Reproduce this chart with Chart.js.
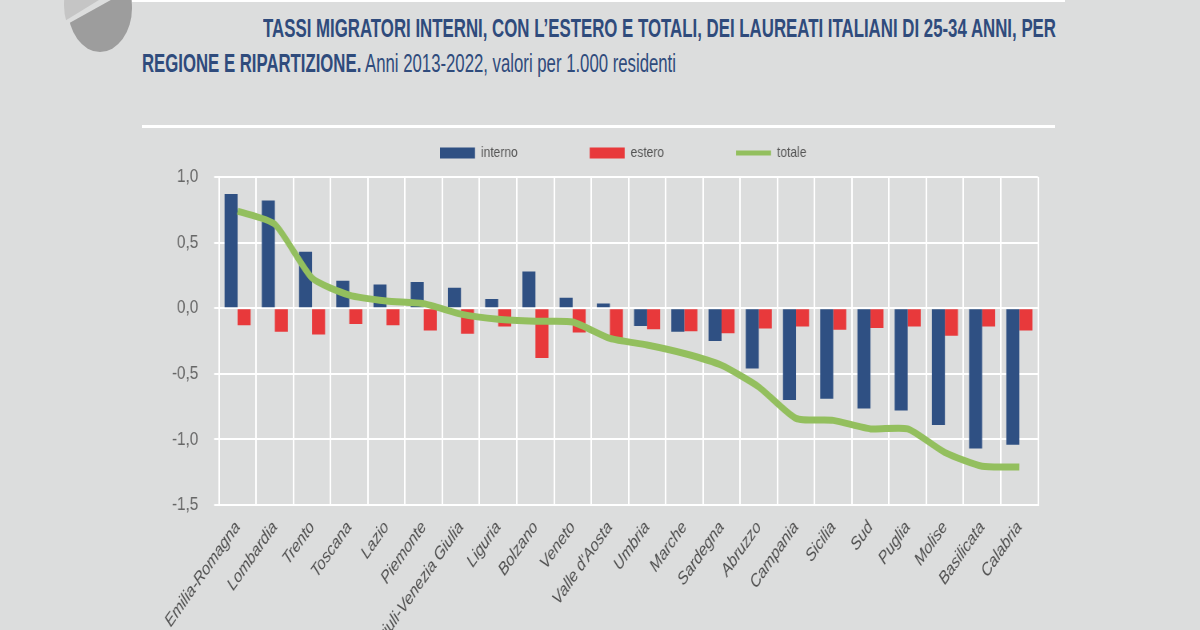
<!DOCTYPE html>
<html>
<head>
<meta charset="utf-8">
<script src="https://cdn.jsdelivr.net/npm/chart.js@4.4.1/dist/chart.umd.min.js"></script>
<style>
  html, body { margin: 0; padding: 0; }
  body { width: 1200px; height: 630px; overflow: hidden; background: #dcdddd; position: relative; font-family: "Liberation Sans", Arial, sans-serif; }
  .rule { position: absolute; background: #ffffff; }
  .title { position: absolute; color: #2f4b7c; font-size: 26px; line-height: 26px; white-space: nowrap; transform-origin: 0 0; display: inline-block; }
  .title b { font-weight: bold; }
  #wrap { position: absolute; left: 0; top: 0; width: 1500px; height: 700px; transform: scaleX(0.8); transform-origin: 0 0; }
  #logo { position: absolute; left: 55px; top: 0; }
</style>
</head>
<body>
<svg id="logo" width="90" height="60" viewBox="55 0 90 60">
  <defs>
    <clipPath id="cut"><polygon points="55,27 112,-8 55,-8"/></clipPath>
    <clipPath id="rest"><polygon points="55,31 118,-4 150,-4 150,60 55,60"/></clipPath>
  </defs>
  <ellipse cx="100" cy="8" rx="32" ry="44" fill="#9d9d9d" clip-path="url(#rest)"/>
  <ellipse cx="96" cy="5" rx="32" ry="44" fill="#c5c5c5" clip-path="url(#cut)"/>
</svg>
<div class="rule" style="left:132px; top:0; width:933px; height:2px;"></div>
<div class="rule" style="left:142px; top:125px; width:913px; height:3px;"></div>
<div class="title fit" data-w="793" style="left:263px; top:15px;"><b>TASSI MIGRATORI INTERNI, CON L’ESTERO E TOTALI, DEI LAUREATI ITALIANI DI 25-34 ANNI, PER</b></div>
<div class="title fit" data-w="534" style="left:142px; top:50px;"><b>REGIONE E RIPARTIZIONE.</b> Anni 2013-2022, valori per 1.000 residenti</div>
<div id="wrap"><canvas id="chart"></canvas></div>
<script>
// categorie (regioni e ripartizioni)
const categories = ['Emilia-Romagna', 'Lombardia', 'Trento', 'Toscana', 'Lazio', 'Piemonte',
  'Friuli-Venezia Giulia', 'Liguria', 'Bolzano', 'Veneto', "Valle d'Aosta", 'Umbria', 'Marche',
  'Sardegna', 'Abruzzo', 'Campania', 'Sicilia', 'Sud', 'Puglia', 'Molise', 'Basilicata', 'Calabria'];

// valori per 1.000 residenti
const interno = [0.87, 0.82, 0.43, 0.21, 0.18, 0.20, 0.155, 0.07, 0.28, 0.08, 0.035, -0.135, -0.18,
  -0.25, -0.46, -0.70, -0.69, -0.765, -0.78, -0.89, -1.07, -1.04];
const estero = [-0.13, -0.18, -0.20, -0.12, -0.13, -0.17, -0.195, -0.14, -0.38, -0.185, -0.25, -0.16,
  -0.175, -0.19, -0.155, -0.14, -0.165, -0.15, -0.14, -0.21, -0.14, -0.17];
const totale = [0.74, 0.64, 0.23, 0.10, 0.055, 0.035, -0.045, -0.085, -0.10, -0.105, -0.23, -0.28,
  -0.345, -0.435, -0.60, -0.84, -0.855, -0.92, -0.92, -1.10, -1.205, -1.21];

// asse y
const yTicks = [-1.5, -1.0, -0.5, 0.0, 0.5, 1.0];

const BLUE = '#2f5083';
const RED = '#e8393b';
const GREEN = '#93bf5e';
const FONT = '"Liberation Sans", Arial, sans-serif';

// adatta la larghezza dei titoli (testo stretto)
document.querySelectorAll('.fit').forEach(el => {
  const w = el.getBoundingClientRect().width;
  el.style.transform = 'scaleX(' + (el.dataset.w / w) + ')';
});

// sposta la legenda nella posizione voluta
const legendPlace = {
  id: 'legendPlace',
  afterLayout(chart) {
    const lg = chart.legend;
    const p = lg.options.labels.padding;
    lg.top = 153 - p - 7.5;
    lg.left = 550 - p;
  }
};

new Chart(document.getElementById('chart'), {
  type: 'bar',
  data: {
    labels: categories,
    datasets: [
      {
        type: 'line', label: 'totale', data: totale, order: 0,
        borderColor: GREEN, backgroundColor: GREEN, borderWidth: 7,
        pointRadius: 0, tension: 0.2, fill: false
      },
      { label: 'interno', data: interno, order: 1, backgroundColor: BLUE },
      { label: 'estero', data: estero, order: 2, backgroundColor: RED }
    ]
  },
  options: {
    responsive: true,
    maintainAspectRatio: false,
    animation: false,
    categoryPercentage: 0.7,
    barPercentage: 1.0,
    layout: { padding: { top: 62, right: 202.5, bottom: 0, left: 0 } },
    plugins: {
      tooltip: { enabled: false },
      legend: {
        position: 'top',
        align: 'start',
        labels: {
          usePointStyle: true,
          pointStyleWidth: 43.75,
          boxHeight: 11,
          padding: 90,
          color: '#555555',
          font: { family: FONT, size: 15 },
          generateLabels(chart) {
            const ds = chart.data.datasets;
            return [1, 2, 0].map(i => ({
              text: ds[i].label,
              datasetIndex: i,
              fillStyle: ds[i].type === 'line' ? 'rgba(0,0,0,0)' : ds[i].backgroundColor,
              strokeStyle: ds[i].type === 'line' ? GREEN : 'rgba(0,0,0,0)',
              lineWidth: ds[i].type === 'line' ? 5 : 0,
              pointStyle: ds[i].type === 'line' ? 'line' : 'rect',
              fontColor: '#555555',
              hidden: false
            }));
          }
        }
      }
    },
    scales: {
      x: {
        offset: true,
        grid: { offset: true, color: '#ffffff', lineWidth: 2, drawTicks: false },
        border: { color: '#ffffff', width: 2 },
        ticks: {
          autoSkip: false, minRotation: 49, maxRotation: 49, padding: 12,
          color: '#505050', font: { family: FONT, size: 18, style: 'italic' }
        },
        afterFit(scale) { scale.height = 195; }
      },
      y: {
        min: -1.5, max: 1.0,
        afterBuildTicks(scale) { scale.ticks = yTicks.map(v => ({ value: v })); },
        grid: { color: '#ffffff', lineWidth: 2, tickLength: 6, tickColor: '#ffffff' },
        border: { color: '#ffffff', width: 2 },
        ticks: {
          padding: 20, color: '#666666', font: { family: FONT, size: 19 },
          callback: v => v.toFixed(1).replace('.', ',')
        },
        afterFit(scale) { scale.width = 273.75; }
      }
    }
  },
  plugins: [legendPlace]
});
</script>
</body>
</html>
